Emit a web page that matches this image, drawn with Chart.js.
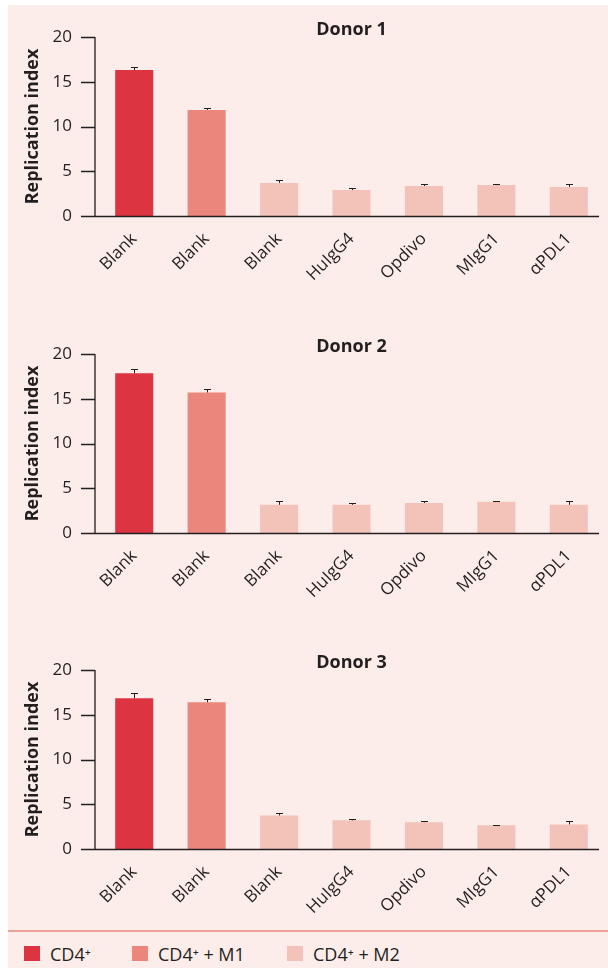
<!DOCTYPE html>
<html>
<head>
<meta charset="utf-8">
<script src="https://cdn.jsdelivr.net/npm/chart.js@4.4.1/dist/chart.umd.min.js"></script>
<style>
  html, body { margin: 0; padding: 0; background: #fff; }
  body { width: 608px; height: 968px; position: relative; overflow: hidden; font-family: "Open Sans", sans-serif; }
  #panel { position: absolute; left: 8px; top: 5px; width: 600px; height: 963px; background: #fcecea; }
  #panel canvas { position: absolute; left: 0; }
  #rule { position: absolute; left: 0; top: 925px; width: 600px; height: 2px; background: #eda396; }
  .sw { position: absolute; top: 941px; width: 16px; height: 15px; }
  .lbl { position: absolute; top: 938px; font-size: 18px; line-height: 22px; color: #231f20; }
</style>
</head>
<body>
<div id="panel">
  <canvas id="donor1" width="600" height="290" style="top:0px"></canvas>
  <canvas id="donor2" width="600" height="290" style="top:317px"></canvas>
  <canvas id="donor3" width="600" height="290" style="top:633px"></canvas>
  <div id="rule"></div>
  <div id="legend"></div>
</div>
<script>
// ===== data =====
const categories = ["Blank", "Blank", "Blank", "HuIgG4", "Opdivo", "MIgG1", "αPDL1"];
const groupNames = ["CD4⁺", "CD4⁺ + M1", "CD4⁺ + M2"];
const barGroup = [0, 1, 2, 2, 2, 2, 2];
const yTicks = [0, 5, 10, 15, 20];

const donor1 = [16.3, 11.85, 3.7, 2.9, 3.35, 3.45, 3.25];
const donor1Err = [0.3, 0.25, 0.3, 0.25, 0.25, 0.12, 0.35];
const donor2 = [17.85, 15.7, 3.15, 3.15, 3.35, 3.5, 3.15];
const donor2Err = [0.5, 0.4, 0.45, 0.2, 0.2, 0.1, 0.4];
const donor3 = [16.85, 16.4, 3.75, 3.2, 3.0, 2.65, 2.75];
const donor3Err = [0.6, 0.35, 0.25, 0.2, 0.15, 0.08, 0.35];

const groupColors = ["#dd3441", "#ea867c", "#f3c2b8"];
const ink = "#231f20";
const font = "'Open Sans', sans-serif";

// ===== axes + error bars =====
const axesAndErrors = {
  id: "axesAndErrors",
  afterDatasetsDraw(chart, args, opts) {
    const { ctx, chartArea: a, scales: { y } } = chart;
    const meta = chart.getDatasetMeta(0);
    const vals = chart.data.datasets[0].data;
    ctx.save();
    ctx.strokeStyle = ink;
    ctx.lineWidth = 1;
    meta.data.forEach((bar, i) => {
      const top = Math.round(y.getPixelForValue(vals[i] + opts.errors[i])) + 0.5;
      const bx = Math.round(bar.x) + 0.5;
      ctx.beginPath();
      ctx.moveTo(bx, bar.y);
      ctx.lineTo(bx, top);
      ctx.moveTo(bx - 3.5, top);
      ctx.lineTo(bx + 3.5, top);
      ctx.stroke();
    });
    // axis lines sit a little left of the first category band, like the original
    const ax = a.left - 3;
    const tickStart = a.left - 17;
    ctx.lineWidth = 1.3;
    ctx.beginPath();
    ctx.moveTo(ax, y.getPixelForValue(yTicks[yTicks.length - 1]));
    ctx.lineTo(ax, y.getPixelForValue(0));
    yTicks.forEach(t => {
      const py = Math.round(y.getPixelForValue(t)) + 0.5;
      ctx.moveTo(tickStart, py);
      ctx.lineTo(ax, py);
    });
    const y0 = Math.round(y.getPixelForValue(0)) + 0.5;
    ctx.moveTo(tickStart, y0);
    ctx.lineTo(a.right - 6, y0);
    ctx.stroke();
    ctx.restore();
  }
};

function makeChart(id, title, values, errors) {
  new Chart(document.getElementById(id), {
    type: "bar",
    data: {
      labels: categories,
      datasets: [{
        data: values,
        backgroundColor: barGroup.map(g => groupColors[g]),
        barPercentage: 0.525,
        categoryPercentage: 1
      }]
    },
    options: {
      responsive: false,
      animation: false,
      layout: { padding: { left: 0, right: 3, top: 0, bottom: 0 } },
      plugins: {
        legend: { display: false },
        tooltip: { enabled: false },
        title: {
          display: true,
          text: title,
          fullSize: false,
          color: ink,
          font: { family: font, size: 18, weight: "bold", lineHeight: 1 },
          padding: { top: 16, bottom: -2 }
        },
        axesAndErrors: { errors: errors }
      },
      scales: {
        x: {
          grid: { display: false, drawTicks: false },
          border: { display: false },
          ticks: {
            color: ink,
            font: { family: font, size: 17 },
            minRotation: 45,
            maxRotation: 45,
            padding: 13
          },
          afterFit: s => { s.height = 79; }
        },
        y: {
          min: 0,
          max: 20,
          grid: { display: false, drawTicks: false },
          border: { display: false },
          ticks: {
            stepSize: 5,
            color: ink,
            font: { family: font, size: 17 },
            padding: 26
          },
          title: {
            display: true,
            text: "Replication index",
            color: ink,
            font: { family: font, size: 18, weight: "bold" },
            padding: { top: 14, bottom: 0 }
          },
          afterFit: s => {
            s.width = 90;
            s.paddingTop = 0;
            s.paddingBottom = 0;
          }
        }
      }
    },
    plugins: [axesAndErrors]
  });
}

makeChart("donor1", "Donor 1", donor1, donor1Err);
makeChart("donor2", "Donor 2", donor2, donor2Err);
makeChart("donor3", "Donor 3", donor3, donor3Err);

// ===== legend =====
const legend = document.getElementById("legend");
const swatchX = [16, 124, 279];
groupNames.forEach((name, i) => {
  const sw = document.createElement("div");
  sw.className = "sw";
  sw.style.left = swatchX[i] + "px";
  sw.style.background = groupColors[i];
  legend.appendChild(sw);
  const t = document.createElement("div");
  t.className = "lbl";
  t.style.left = (swatchX[i] + 26) + "px";
  t.textContent = name;
  legend.appendChild(t);
});
</script>
</body>
</html>
